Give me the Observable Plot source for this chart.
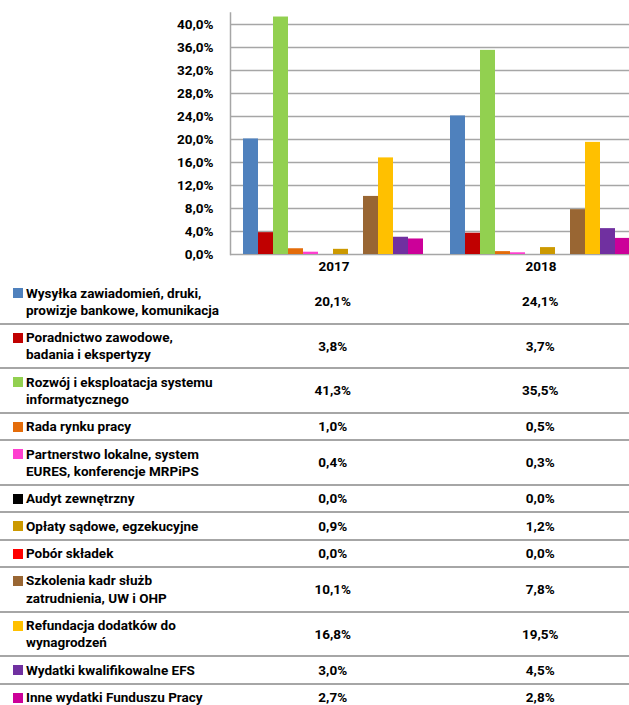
<!DOCTYPE html>
<html>
<head>
<meta charset="utf-8">
<script src="https://cdn.jsdelivr.net/npm/d3@7"></script>
<script src="https://cdn.jsdelivr.net/npm/@observablehq/plot@0.6"></script>
<style>
  html, body { margin: 0; padding: 0; background: #fff; overflow: hidden; width: 629px; }
  #wrap { position: relative; width: 629px; font-family: Roboto, "Liberation Sans", sans-serif; font-weight: bold; font-size: 13.5px; color: #000; }
  #chart svg { display: block; overflow: hidden; }
  .row { position: relative; width: 644px; display: flex; align-items: center; padding: 4.5px 0 3.7px 0; line-height: 17.2px; border-bottom: 2px solid #a6a6a6; }
  .row:last-child { border-bottom: none; }
  .lab { position: relative; width: 203px; margin-left: 26px; box-sizing: border-box; white-space: pre-line; }
  .sw { position: absolute; left: -13px; top: 3.6px; width: 10px; height: 10px; }
  .val { width: 207.5px; text-align: center; }
</style>
</head>
<body>
<div id="wrap">
  <div id="chart"></div>
  <div id="table"></div>
</div>
<script>
const years = ["2017", "2018"];
const categories = [
  "Wysyłka zawiadomień, druki,\nprowizje bankowe, komunikacja",
  "Poradnictwo zawodowe,\nbadania i ekspertyzy",
  "Rozwój i eksploatacja systemu\ninformatycznego",
  "Rada rynku pracy",
  "Partnerstwo lokalne, system\nEURES, konferencje MRPiPS",
  "Audyt zewnętrzny",
  "Opłaty sądowe, egzekucyjne",
  "Pobór składek",
  "Szkolenia kadr służb\nzatrudnienia, UW i OHP",
  "Refundacja dodatków do\nwynagrodzeń",
  "Wydatki kwalifikowalne EFS",
  "Inne wydatki Funduszu Pracy"
];
const colors = ["#4f81bd", "#c00000", "#92d050", "#e46c0a", "#ff3fd0", "#000000", "#cc9900", "#ff0000", "#996633", "#ffc000", "#7030a0", "#cc0099"];
const values2017 = [20.1, 3.8, 41.3, 1.0, 0.4, 0.0, 0.9, 0.0, 10.1, 16.8, 3.0, 2.7];
const values2018 = [24.1, 3.7, 35.5, 0.5, 0.3, 0.0, 1.2, 0.0, 7.8, 19.5, 4.5, 2.8];
const yTicks = [0, 4, 8, 12, 16, 20, 24, 28, 32, 36, 40];

const fmt = v => v.toFixed(1).replace(".", ",") + "%";

const data = [];
categories.forEach((c, i) => {
  data.push({year: years[0], category: c, value: values2017[i]});
  data.push({year: years[1], category: c, value: values2018[i]});
});

const chart = Plot.plot({
  width: 629,
  height: 280,
  marginLeft: 229,
  marginRight: 0,
  marginTop: 12.5,
  marginBottom: 26,
  style: {fontFamily: "Roboto, 'Liberation Sans', sans-serif", fontWeight: "bold", fontSize: "13.5px", color: "#000", overflow: "hidden", background: "#fff"},
  fx: {domain: years, range: [229, 644], padding: 0, label: null},
  x: {domain: categories, padding: 0, insetLeft: 10, insetRight: 11.5, axis: null},
  y: {domain: [0, 42], axis: null},
  color: {domain: categories, range: colors},
  marks: [
    Plot.gridY(yTicks, {stroke: "#a6a6a6", strokeOpacity: 1, strokeWidth: 1.5}),
    Plot.frame({anchor: "left", facetAnchor: "left", stroke: "#a6a6a6", strokeOpacity: 1, strokeWidth: 1.5}),
    Plot.barY(data, {fx: "year", x: "category", y: "value", fill: "category"}),
    Plot.axisY(yTicks, {label: null, tickSize: 0, tickPadding: 17, tickFormat: fmt, fontSize: 13.5, fontWeight: "bold", fill: "#000"}),
    Plot.axisFx({anchor: "bottom", tickSize: 0, tickPadding: 7, fontSize: 13.5, fontWeight: "bold", fill: "#000", label: null})
  ]
});
document.getElementById("chart").appendChild(chart);

const table = document.getElementById("table");
categories.forEach((c, i) => {
  const row = document.createElement("div");
  row.className = "row";
  const lab = document.createElement("div");
  lab.className = "lab";
  const sw = document.createElement("span");
  sw.className = "sw";
  sw.style.background = colors[i];
  lab.appendChild(sw);
  lab.appendChild(document.createTextNode(c));
  row.appendChild(lab);
  [values2017[i], values2018[i]].forEach(v => {
    const cell = document.createElement("div");
    cell.className = "val";
    cell.textContent = fmt(v);
    row.appendChild(cell);
  });
  table.appendChild(row);
});
</script>
</body>
</html>
